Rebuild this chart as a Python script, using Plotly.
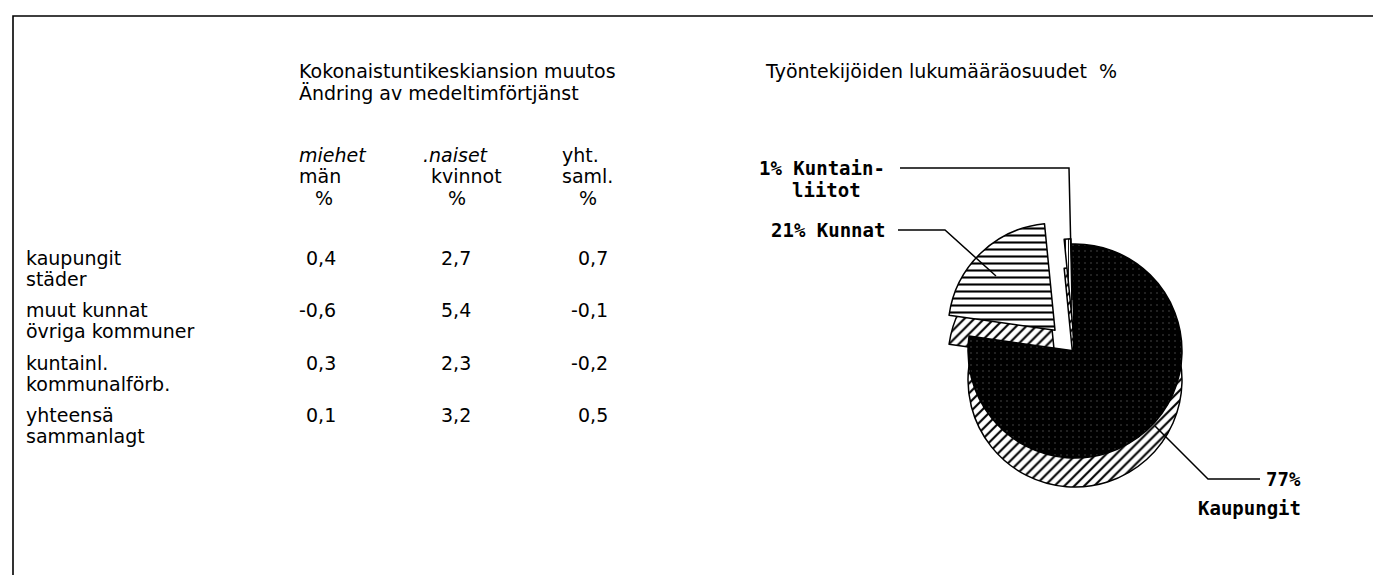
import plotly.graph_objects as go

W, H = 1381, 575

# ---- data ----
table_title = ["Kokonaistuntikeskiansion muutos", "Ändring av medeltimförtjänst"]
col_headers = [["miehet", "män", "%"], [".naiset", "kvinnot", "%"], ["yht.", "saml.", "%"]]
row_labels = [["kaupungit", "städer"], ["muut kunnat", "övriga kommuner"],
              ["kuntainl.", "kommunalförb."], ["yhteensä", "sammanlagt"]]
men = [0.4, -0.6, 0.3, 0.1]
women = [2.7, 5.4, 2.3, 3.2]
total = [0.7, -0.1, -0.2, 0.5]

pie_title = "Työntekijöiden lukumääräosuudet\u00a0 %"
pie_labels = ["Kaupungit", "Kunnat", "Kuntainliitot"]
pie_values = [77, 21, 1]
pie_pull = [0, 0.27, 0.05]

BODY = "DejaVu Sans"
MONO = "DejaVu Sans Mono"
FS = 19


def px(x):
    return x / W


def py(y):
    return 1 - y / H


def fmt(v):
    return f"{v:.1f}".replace(".", ",")


annotations = []


def text(x, y, s, anchor="left", font=BODY, size=FS, weight="normal", italic=False):
    annotations.append(dict(
        x=px(x), y=py(y), xref="paper", yref="paper", text=s, showarrow=False,
        xanchor=anchor, yanchor="middle", borderpad=0,
        font=dict(family=font, size=size, color="black", weight=weight,
                  style="italic" if italic else "normal"),
    ))


# ---- table text ----
text(290, 63, table_title[0])
text(290, 85, table_title[1])

hdr_x = [(290, 290, 306), (414, 422, 439), (553, 553, 570)]
hdr_y = [147, 168, 190]
for c, lines in enumerate(col_headers):
    for i, s in enumerate(lines):
        text(hdr_x[c][i], hdr_y[i], s, italic=(i == 0 and c < 2))

row_y = [250, 302, 355, 407]
val_right = [329, 464, 601]
for r, (l1, l2) in enumerate(row_labels):
    text(17, row_y[r], l1)
    text(17, row_y[r] + 21, l2)
    for c, series in enumerate([men, women, total]):
        text(val_right[c], row_y[r], fmt(series[r]), anchor="right")

# ---- pie ----
text(756, 63, pie_title)

CX, CY, R, DEPTH = 1067, 343, 107, 29
half = R * (1 + max(pie_pull))


def dom(cy):
    return dict(x=[px(CX - half), px(CX + half)], y=[py(cy + half), py(cy - half)])


fig = go.Figure()
# side (depth) of the 3-D pie
fig.add_trace(go.Pie(
    values=pie_values, labels=pie_labels, sort=False, direction="clockwise", rotation=-2,
    pull=pie_pull, domain=dom(CY + DEPTH), textinfo="none", hoverinfo="skip",
    showlegend=False,
    marker=dict(colors=["white"] * 3, line=dict(color="black", width=1.5),
                pattern=dict(shape="/", fgcolor="black", bgcolor="white", size=7,
                             solidity=0.3, fillmode="replace")),
))
# top face
fig.add_trace(go.Pie(
    values=pie_values, labels=pie_labels, sort=False, direction="clockwise", rotation=-2,
    pull=pie_pull, domain=dom(CY), textinfo="none", showlegend=False,
    marker=dict(colors=["black", "white", "white"], line=dict(color="black", width=1.5),
                pattern=dict(shape=[".", "-", "|"], fgcolor=["#4a4a4a", "black", "black"],
                             bgcolor=["black", "white", "white"], size=[6, 7, 3],
                             solidity=[0.06, 0.3, 0.3], fillmode="replace")),
))

# pie labels
LS = 19
text(878, 160, "1% Kuntain-", anchor="right", font=MONO, size=LS, weight="bold")
text(854, 182, "liitot", anchor="right", font=MONO, size=LS, weight="bold")
text(878, 222, "21% Kunnat", anchor="right", font=MONO, size=LS, weight="bold")
text(1294, 471, "77%", anchor="right", font=MONO, size=LS, weight="bold")
text(1294, 500, "Kaupungit", anchor="right", font=MONO, size=LS, weight="bold")


def path(points):
    return "M " + " L ".join(f"{px(x)},{py(y)}" for x, y in points)


line = dict(color="black", width=1.5)
shapes = [
    dict(type="rect", xref="paper", yref="paper", x0=px(5), x1=px(1377), y0=py(8), y1=py(600),
         line=dict(color="black", width=1.6), fillcolor="rgba(0,0,0,0)", layer="above"),
    dict(type="path", xref="paper", yref="paper", path=path([(892, 160), (1061, 160), (1064, 292)]),
         line=line, layer="above"),
    dict(type="path", xref="paper", yref="paper", path=path([(890, 222), (937, 222), (988, 268)]),
         line=line, layer="above"),
    dict(type="path", xref="paper", yref="paper", path=path([(1252, 471), (1200, 471), (1147, 418)]),
         line=line, layer="above"),
]

fig.update_layout(
    width=W, height=H, margin=dict(l=0, r=0, t=0, b=0),
    paper_bgcolor="white", plot_bgcolor="white",
    annotations=annotations, shapes=shapes,
)
fig.write_html("out.html")
